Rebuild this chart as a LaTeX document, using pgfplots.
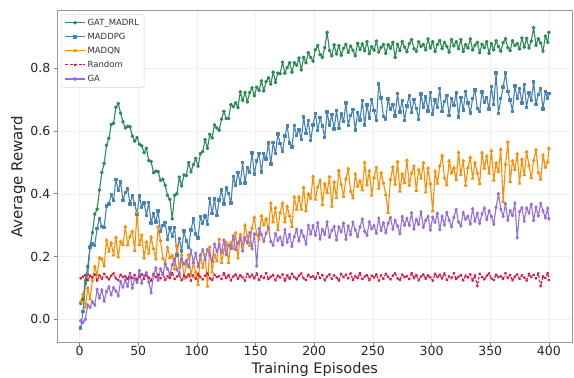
\documentclass[border=0pt]{standalone}
\usepackage{fontspec}
\setmainfont{DejaVu Sans}
\usepackage{pgfplots}
\usepackage{pgfplotstable}
\pgfplotsset{compat=1.18}
\definecolor{cgat}{HTML}{2E8B57}
\definecolor{cmaddpg}{HTML}{4682B4}
\definecolor{cmadqn}{HTML}{FF8C00}
\definecolor{crand}{HTML}{DC143C}
\definecolor{cga}{HTML}{9370DB}
\pgfplotstableread{
x g b o r p
1 0.050 -0.028 0.055 0.130 -0.005
3 0.064 0.025 0.080 0.136 -0.010
5 0.124 0.114 0.038 0.141 0.000
7 0.168 0.143 0.100 0.124 0.045
9 0.233 0.228 0.064 0.139 0.038
11 0.276 0.240 0.124 0.133 0.055
13 0.335 0.236 0.168 0.143 0.045
15 0.351 0.290 0.140 0.123 0.095
17 0.412 0.322 0.196 0.140 0.068
19 0.468 0.296 0.192 0.129 0.093
21 0.497 0.292 0.170 0.145 0.058
23 0.555 0.361 0.252 0.135 0.088
25 0.577 0.367 0.216 0.127 0.103
27 0.621 0.397 0.244 0.139 0.078
29 0.625 0.379 0.204 0.146 0.100
31 0.676 0.445 0.261 0.130 0.090
33 0.688 0.410 0.198 0.125 0.075
35 0.657 0.438 0.248 0.142 0.120
37 0.630 0.379 0.238 0.134 0.103
39 0.610 0.404 0.295 0.137 0.125
41 0.615 0.415 0.236 0.128 0.105
43 0.614 0.368 0.264 0.147 0.143
45 0.584 0.394 0.280 0.131 0.100
47 0.568 0.368 0.219 0.141 0.130
49 0.579 0.335 0.340 0.124 0.118
51 0.558 0.393 0.237 0.136 0.155
53 0.553 0.357 0.268 0.143 0.115
55 0.531 0.371 0.195 0.129 0.138
57 0.545 0.331 0.246 0.140 0.148
59 0.506 0.372 0.210 0.133 0.118
61 0.503 0.307 0.262 0.123 0.085
63 0.467 0.337 0.225 0.145 0.140
65 0.472 0.310 0.192 0.134 0.163
67 0.471 0.345 0.295 0.142 0.125
69 0.443 0.279 0.251 0.130 0.160
71 0.446 0.299 0.194 0.146 0.143
73 0.427 0.308 0.178 0.125 0.175
75 0.395 0.254 0.229 0.137 0.160
77 0.382 0.291 0.196 0.131 0.143
79 0.320 0.263 0.203 0.147 0.173
81 0.395 0.292 0.160 0.128 0.192
83 0.400 0.205 0.235 0.136 0.158
85 0.453 0.258 0.165 0.141 0.146
87 0.425 0.218 0.205 0.124 0.193
89 0.460 0.281 0.130 0.139 0.177
91 0.458 0.250 0.175 0.133 0.186
93 0.500 0.229 0.205 0.143 0.167
95 0.470 0.284 0.140 0.123 0.220
97 0.493 0.320 0.180 0.140 0.181
99 0.513 0.272 0.150 0.129 0.210
101 0.488 0.259 0.110 0.145 0.168
103 0.528 0.327 0.205 0.135 0.203
105 0.535 0.306 0.165 0.127 0.221
107 0.573 0.329 0.205 0.139 0.190
109 0.545 0.303 0.105 0.146 0.222
111 0.590 0.385 0.230 0.130 0.204
113 0.578 0.337 0.150 0.125 0.185
115 0.620 0.383 0.205 0.142 0.239
117 0.610 0.330 0.185 0.134 0.217
119 0.603 0.380 0.255 0.137 0.238
121 0.638 0.412 0.180 0.128 0.213
123 0.663 0.368 0.220 0.147 0.252
125 0.640 0.418 0.245 0.131 0.206
127 0.640 0.401 0.180 0.141 0.236
129 0.685 0.370 0.245 0.124 0.226
131 0.678 0.456 0.225 0.136 0.265
133 0.690 0.426 0.275 0.143 0.222
135 0.675 0.467 0.195 0.129 0.243
137 0.725 0.432 0.270 0.140 0.260
139 0.698 0.500 0.230 0.133 0.218
141 0.723 0.434 0.300 0.123 0.259
143 0.693 0.484 0.265 0.145 0.244
145 0.723 0.467 0.235 0.134 0.276
147 0.738 0.530 0.290 0.142 0.225
149 0.713 0.463 0.325 0.130 0.272
151 0.740 0.505 0.270 0.146 0.170
153 0.730 0.528 0.255 0.125 0.289
155 0.760 0.470 0.330 0.137 0.270
157 0.728 0.529 0.300 0.131 0.249
159 0.758 0.511 0.320 0.147 0.274
161 0.770 0.562 0.285 0.128 0.292
163 0.750 0.495 0.370 0.136 0.248
165 0.788 0.563 0.310 0.141 0.236
167 0.755 0.528 0.355 0.124 0.273
169 0.785 0.591 0.285 0.139 0.252
171 0.783 0.560 0.340 0.133 0.261
173 0.820 0.534 0.370 0.143 0.237
175 0.785 0.584 0.310 0.123 0.285
177 0.803 0.616 0.360 0.140 0.246
179 0.818 0.562 0.330 0.129 0.270
181 0.788 0.549 0.295 0.145 0.233
183 0.818 0.617 0.390 0.135 0.263
185 0.810 0.586 0.350 0.127 0.286
187 0.833 0.604 0.390 0.139 0.250
189 0.795 0.573 0.350 0.146 0.282
191 0.835 0.645 0.420 0.130 0.264
193 0.818 0.592 0.345 0.125 0.240
195 0.850 0.633 0.400 0.142 0.299
197 0.835 0.570 0.385 0.134 0.272
199 0.823 0.620 0.455 0.137 0.298
201 0.860 0.657 0.382 0.128 0.268
203 0.873 0.602 0.421 0.147 0.307
205 0.844 0.643 0.443 0.131 0.256
207 0.835 0.616 0.365 0.141 0.286
209 0.866 0.580 0.432 0.124 0.271
211 0.915 0.661 0.404 0.136 0.310
213 0.857 0.620 0.454 0.143 0.262
215 0.840 0.652 0.360 0.129 0.283
217 0.875 0.607 0.437 0.140 0.295
219 0.846 0.666 0.387 0.133 0.253
221 0.873 0.609 0.474 0.123 0.294
223 0.842 0.654 0.430 0.145 0.279
225 0.864 0.631 0.391 0.134 0.306
227 0.877 0.690 0.447 0.142 0.255
229 0.851 0.618 0.480 0.130 0.297
231 0.871 0.650 0.408 0.146 0.270
233 0.858 0.668 0.386 0.125 0.309
235 0.840 0.604 0.463 0.137 0.285
237 0.880 0.659 0.424 0.131 0.264
239 0.860 0.636 0.441 0.147 0.294
241 0.878 0.697 0.412 0.128 0.319
243 0.856 0.620 0.500 0.136 0.280
245 0.885 0.683 0.428 0.141 0.268
247 0.847 0.642 0.473 0.124 0.310
249 0.869 0.701 0.395 0.139 0.289
251 0.858 0.665 0.451 0.133 0.298
253 0.887 0.633 0.484 0.143 0.274
255 0.852 0.750 0.417 0.123 0.322
257 0.867 0.706 0.467 0.140 0.283
259 0.876 0.647 0.434 0.129 0.307
261 0.848 0.639 0.397 0.145 0.276
263 0.875 0.702 0.340 0.135 0.306
265 0.864 0.670 0.446 0.127 0.324
267 0.883 0.684 0.485 0.139 0.288
269 0.835 0.648 0.430 0.146 0.315
271 0.877 0.720 0.502 0.130 0.297
273 0.857 0.661 0.408 0.125 0.273
275 0.886 0.698 0.463 0.142 0.327
277 0.868 0.634 0.435 0.134 0.300
279 0.853 0.680 0.507 0.137 0.321
281 0.879 0.714 0.427 0.128 0.300
283 0.892 0.659 0.466 0.147 0.339
285 0.863 0.700 0.488 0.131 0.288
287 0.854 0.673 0.410 0.141 0.318
289 0.885 0.637 0.477 0.124 0.303
291 0.870 0.718 0.449 0.136 0.342
293 0.876 0.677 0.499 0.143 0.294
295 0.859 0.709 0.405 0.129 0.315
297 0.894 0.664 0.482 0.140 0.327
299 0.865 0.723 0.432 0.133 0.285
301 0.885 0.654 0.345 0.123 0.325
303 0.854 0.699 0.472 0.145 0.310
305 0.876 0.676 0.433 0.134 0.337
307 0.889 0.735 0.489 0.142 0.286
309 0.863 0.663 0.522 0.130 0.328
311 0.883 0.695 0.450 0.146 0.301
313 0.870 0.713 0.428 0.125 0.340
315 0.852 0.649 0.505 0.137 0.316
317 0.892 0.704 0.466 0.131 0.295
319 0.872 0.681 0.483 0.147 0.325
321 0.885 0.722 0.444 0.128 0.349
323 0.863 0.645 0.532 0.136 0.310
325 0.892 0.708 0.460 0.141 0.298
327 0.854 0.667 0.505 0.124 0.340
329 0.876 0.726 0.427 0.139 0.319
331 0.865 0.690 0.483 0.133 0.328
333 0.894 0.658 0.516 0.143 0.304
335 0.859 0.704 0.449 0.123 0.352
337 0.874 0.731 0.499 0.140 0.313
339 0.883 0.672 0.466 0.105 0.337
341 0.850 0.662 0.432 0.145 0.306
343 0.877 0.725 0.531 0.135 0.336
345 0.866 0.693 0.481 0.127 0.354
347 0.885 0.707 0.520 0.139 0.318
349 0.848 0.671 0.465 0.146 0.345
351 0.879 0.743 0.537 0.130 0.327
353 0.859 0.684 0.443 0.125 0.303
355 0.888 0.785 0.498 0.142 0.357
357 0.870 0.657 0.470 0.134 0.400
359 0.855 0.703 0.542 0.137 0.351
361 0.882 0.740 0.375 0.128 0.328
363 0.895 0.785 0.494 0.147 0.367
365 0.866 0.726 0.565 0.131 0.316
367 0.857 0.699 0.438 0.141 0.346
369 0.888 0.663 0.505 0.124 0.331
371 0.873 0.744 0.477 0.136 0.370
373 0.879 0.703 0.527 0.143 0.260
375 0.862 0.735 0.433 0.129 0.343
377 0.897 0.690 0.510 0.140 0.355
379 0.868 0.749 0.460 0.133 0.313
381 0.896 0.676 0.534 0.123 0.354
383 0.865 0.721 0.490 0.145 0.339
385 0.887 0.698 0.451 0.134 0.366
387 0.930 0.757 0.507 0.142 0.315
389 0.874 0.685 0.540 0.130 0.357
391 0.894 0.717 0.468 0.146 0.330
393 0.881 0.735 0.446 0.105 0.369
395 0.855 0.671 0.523 0.137 0.345
397 0.903 0.726 0.484 0.131 0.324
399 0.883 0.703 0.501 0.147 0.354
400 0.915 0.720 0.545 0.125 0.320
}\datatable
\begin{document}
\begin{tikzpicture}
\begin{axis}[
  name=ax,
  scale only axis,
  width=515pt, height=332pt,
  xmin=-18.95, xmax=419.95,
  ymin=-0.075, ymax=0.984,
  xtick={0,50,...,400},
  ytick={0,0.2,0.4,0.6,0.8},
  yticklabel style={/pgf/number format/.cd,fixed,fixed zerofill,precision=1},
  xticklabel style={inner sep=1pt, yshift=1.5pt},
  /pgf/number format/assume math mode=true,
  tick label style={font=\fontsize{12.5}{14}\selectfont, text=black!85},
  tick align=outside,
  major tick length=3.5pt,
  tick style={gray, line width=0.6pt},
  xtick pos=bottom, ytick pos=left,
  axis line style={gray!80, line width=0.8pt},
  grid=major,
  major grid style={gray!12, line width=0.5pt},
  xlabel={Training Episodes},
  ylabel={Average Reward},
  every axis x label/.style={at={(axis description cs:0.5,0)}, anchor=base, yshift=-30.5pt,
    inner sep=0.5pt, font=\fontsize{14.5}{17}\selectfont, text=black!85},
  ylabel style={font=\fontsize{15}{18}\selectfont, text=black!85},
  ylabel shift=-2pt,
  legend cell align=left,
  legend style={at={(axis description cs:0,1)}, anchor=north west,
    xshift=4pt, yshift=-3.5pt,
    font=\fontsize{8.5}{10}\selectfont, text=black!80,
    draw=gray!35, rounded corners=2pt, fill=white,
    row sep=2.2pt, inner xsep=3pt, inner ysep=2.5pt},
  legend image code/.code={\draw[mark repeat=2,mark phase=2,#1] plot coordinates {(0pt,0pt) (10pt,0pt) (20pt,0pt)};},
  every axis plot/.append style={line width=1.1pt, line join=round},
]
\addplot[color=cgat, mark=*, mark size=1.3pt] table[x=x,y=g]{\datatable};
\addlegendentry{GAT\_MADRL}
\addplot[color=cmaddpg, mark=square*, mark size=1.15pt] table[x=x,y=b]{\datatable};
\addlegendentry{MADDPG}
\addplot[color=cmadqn, mark=triangle*, mark size=1.4pt] table[x=x,y=o]{\datatable};
\addlegendentry{MADQN}
\addplot[color=crand, dash pattern=on 3pt off 1.5pt, mark=x, mark size=1.2pt, mark options={solid}] table[x=x,y=r]{\datatable};
\addlegendentry{Random}
\addplot[color=cga, mark=diamond*, mark size=1.4pt] table[x=x,y=p]{\datatable};
\addlegendentry{GA}
\end{axis}
\pgfresetboundingbox
\path ([shift={(-57.3pt,-34.3pt)}]ax.south west) rectangle ([shift={(1.7pt,10.7pt)}]ax.north east);
\end{tikzpicture}
\end{document}
